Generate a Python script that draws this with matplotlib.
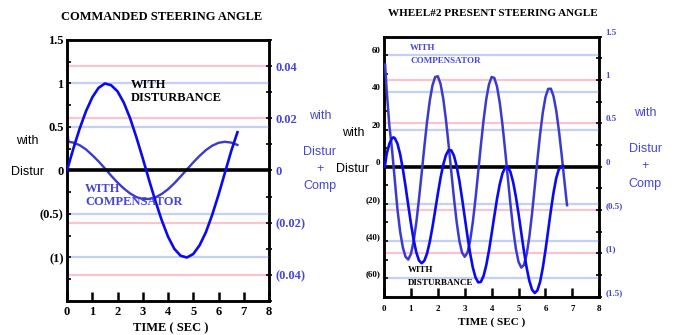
import matplotlib.pyplot as plt
from matplotlib.ticker import MultipleLocator

# ---- left chart: commanded steering angle ----
cmd_t = [0.0, 0.25, 0.5, 0.75, 1.0, 1.25, 1.5, 1.75, 2.0, 2.25, 2.5, 2.75, 3.0, 3.25,
         3.5, 3.75, 4.0, 4.25, 4.5, 4.75, 5.0, 5.25, 5.5, 5.75, 6.0, 6.25, 6.5, 6.75]
cmd_dist = [0.0, 0.25, 0.48, 0.68, 0.84, 0.95, 1.0, 0.98, 0.91, 0.78, 0.6, 0.38, 0.14, -0.11,
            -0.35, -0.57, -0.76, -0.9, -0.98, -1.0, -0.96, -0.86, -0.71, -0.51, -0.28, -0.03, 0.22, 0.44]
cmd_comp_t = [0.0, 0.02, 0.06, 0.25, 0.5, 0.75, 1.0, 1.25, 1.5, 1.75, 2.0, 2.25, 2.5, 2.75, 3.0,
              3.25, 3.5, 3.75, 4.0, 4.25, 4.5, 4.75, 5.0, 5.25, 5.5, 5.75, 6.0, 6.25, 6.5, 6.75]
cmd_comp = [0.0, 0.0143, 0.0110, 0.0107, 0.0097, 0.0081, 0.0059, 0.0035, 0.0008, -0.0020,
            -0.0046, -0.0069, -0.0088, -0.0102, -0.0109, -0.0109, -0.0103, -0.0090, -0.0072,
            -0.0049, -0.0023, 0.0004, 0.0031, 0.0056, 0.0078, 0.0095, 0.0106, 0.0110, 0.0107, 0.0098]

# ---- right chart: wheel#2 present steering angle ----
whl_comp_t = [0.04, 0.1, 0.2, 0.3, 0.4, 0.5, 0.6, 0.7, 0.8, 0.9, 1.0, 1.1, 1.2, 1.3, 1.4, 1.5,
              1.6, 1.7, 1.8, 1.9, 2.0, 2.1, 2.2, 2.3, 2.4, 2.5, 2.6, 2.7, 2.8, 2.9, 3.0, 3.1,
              3.2, 3.3, 3.4, 3.5, 3.6, 3.7, 3.8, 3.9, 4.0, 4.1, 4.2, 4.3, 4.4, 4.5, 4.6, 4.7,
              4.8, 4.9, 5.0, 5.1, 5.2, 5.3, 5.4, 5.5, 5.6, 5.7, 5.8, 5.9, 6.0, 6.1, 6.2, 6.3,
              6.4, 6.5, 6.6, 6.7, 6.8]
whl_comp = [55, 41, 22, 9, -7, -23, -35, -43.5, -48.5, -50, -47, -40.2, -30.1, -17.4, -3.4, 10.9,
            24.3, 35.5, 43.7, 48.3, 48.7, 44.7, 36.8, 25.5, 11.9, -2.7, -17, -29.8, -39.9, -46.3,
            -48.5, -46.3, -39.9, -29.9, -17.2, -2.9, 11.6, 25.1, 36.4, 44.3, 48.3, 47.8, 43.1,
            34.6, 22.9, 9, -5.9, -20.5, -33.6, -44.2, -51.3, -54.3, -52.9, -47.3, -37.8, -25.4,
            -11.1, 3.6, 17.4, 29.1, 37.5, 41.9, 42, 37.9, 30.2, 19.4, 6.6, -7.2, -20.7]
whl_dist_t = [0.03, 0.1, 0.2, 0.3, 0.35, 0.4, 0.5, 0.6, 0.7, 0.8, 0.9, 1.0, 1.1, 1.2, 1.3, 1.4,
              1.5, 1.6, 1.7, 1.8, 1.9, 2.0, 2.1, 2.2, 2.3, 2.4, 2.5, 2.6, 2.7, 2.8, 2.9, 3.0,
              3.1, 3.2, 3.3, 3.4, 3.5, 3.6, 3.7, 3.8, 3.9, 4.0, 4.1, 4.2, 4.3, 4.4, 4.5, 4.6,
              4.7, 4.8, 4.9, 5.0, 5.1, 5.2, 5.3, 5.4, 5.5, 5.6, 5.7, 5.8, 5.9, 6.0, 6.1, 6.2,
              6.3, 6.4, 6.5, 6.65]
whl_dist = [0, 6.9, 12.4, 15.4, 15.8, 15.4, 12.4, 6.7, -1.2, -10.5, -20.6, -30.5, -39.2, -46.1,
            -50.5, -52, -50.6, -46.7, -40.5, -32.6, -23.7, -14.6, -6.1, 1, 6.2, 8.9, 8.8, 5.9,
            0.3, -7.5, -17, -27.2, -37.3, -46.6, -54.3, -59.6, -62.3, -62, -58.8, -53, -45.2,
            -36, -26.5, -17.3, -9.5, -3.7, -0.5, -0.2, -2.9, -8.4, -16.1, -25.4, -35.5, -45.5,
            -54.4, -61.4, -66.2, -68, -66.6, -62, -54.5, -45, -34.3, -23.6, -13.9, -6.1, -1.2, 0.5]

cmd_left_ticks = [-1, -0.5, 0, 0.5, 1, 1.5]
cmd_left_labels = ['(1)', '(0.5)', '0', '0.5', '1', '1.5']
cmd_right_ticks = [-0.04, -0.02, 0, 0.02, 0.04]
cmd_right_labels = ['(0.04)', '(0.02)', '0', '0.02', '0.04']
whl_left_ticks = [-60, -40, -20, 0, 20, 40, 60]
whl_left_labels = ['(60)', '(40)', '(20)', '0', '20', '40', '60']
whl_right_ticks = [-1.5, -1, -0.5, 0, 0.5, 1, 1.5]
whl_right_labels = ['(1.5)', '(1)', '(0.5)', '0', '0.5', '1', '1.5']
time_ticks = [0, 1, 2, 3, 4, 5, 6, 7, 8]

DIST = '#0a0af0'
COMP = '#3a3ad0'
LABEL_BLUE = '#4646d6'
PINK = '#f8c4cf'
LBLUE = '#c4d0f8'
SERIF = 'Liberation Serif'
SANS = 'Liberation Sans'

W, H = 679, 335
fig = plt.figure(figsize=(W / 100, H / 100), dpi=100)


def style_axes(ax, ax2, ylim, yticks, ylabels, y2lim, y2ticks, y2labels, ymin, y2min,
               fs, xpad, ypad):
    ax.set_xlim(0, 8)
    ax.set_ylim(*ylim)
    ax2.set_ylim(*y2lim)
    ax.set_xticks(time_ticks)
    ax.set_xticklabels([str(t) for t in time_ticks])
    ax.set_yticks(yticks)
    ax.set_yticklabels(ylabels)
    ax.yaxis.set_minor_locator(MultipleLocator(ymin))
    ax2.set_yticks(y2ticks)
    ax2.set_yticklabels(y2labels)
    ax2.yaxis.set_minor_locator(MultipleLocator(y2min))
    ax.tick_params(axis='x', direction='in', length=6.5, width=1.8, pad=xpad,
                   labelsize=fs, top=False)
    ax.tick_params(axis='y', which='both', direction='in', length=3, width=1.2,
                   pad=ypad, labelsize=fs)
    ax2.tick_params(axis='y', which='both', direction='inout', length=5, width=1.2,
                    pad=2, labelsize=fs, labelcolor=LABEL_BLUE)
    for lab in ax.get_xticklabels() + ax.get_yticklabels() + ax2.get_yticklabels():
        lab.set_fontfamily(SERIF)
        lab.set_fontweight('bold')
    for a in (ax, ax2):
        for sp in a.spines.values():
            sp.set_linewidth(1.8)
    ax.yaxis.grid(True, color=LBLUE, lw=1.6)
    ax2.yaxis.grid(True, color=PINK, lw=1.6)
    ax.set_axisbelow(True)
    ax.axhline(0, color='black', lw=2.6, zorder=2)
    ax.set_zorder(ax2.get_zorder() + 1)
    ax.patch.set_visible(False)


# left panel
axL = fig.add_axes([67 / W, 1 - 301 / H, 202 / W, 261 / H])
axL2 = axL.twinx()
axL.plot(cmd_t, cmd_dist, color=DIST, lw=1.9, zorder=3)
axL2.plot(cmd_comp_t, cmd_comp, color=COMP, lw=1.7)
style_axes(axL, axL2, (-1.5, 1.5), cmd_left_ticks, cmd_left_labels,
           (-0.05, 0.05), cmd_right_ticks, cmd_right_labels, 0.25, 0.01, 9, 3.5, 2.5)
axL.text(2.52, 1.05, 'WITH\nDISTURBANCE', family=SERIF, weight='bold', fontsize=9,
         va='top', ha='left', linespacing=1.05, zorder=4)
axL.text(0.71, -0.14, 'WITH\nCOMPENSATOR', family=SERIF, weight='bold', fontsize=9,
         color=LABEL_BLUE, va='top', ha='left', linespacing=1.2, zorder=4)

# right panel
axR = fig.add_axes([384 / W, 1 - 296.7 / H, 215.3 / W, 260 / H])
axR2 = axR.twinx()
axR.plot(whl_comp_t, whl_comp, color=COMP, lw=1.8, zorder=3)
axR.plot(whl_dist_t, whl_dist, color=DIST, lw=1.9, zorder=3)
style_axes(axR, axR2, (-70, 70), whl_left_ticks, whl_left_labels,
           (-1.5, 1.5), whl_right_ticks, whl_right_labels, 10, 0.25, 6.5, 6, 2.5)
for lab in axR.get_yticklabels() + axR2.get_yticklabels():
    lab.set_verticalalignment('bottom')
axR.text(0.97, 66, 'WITH\nCOMPENSATOR', family=SERIF, weight='bold', fontsize=6.5,
         color=LABEL_BLUE, va='top', ha='left', linespacing=1.75, zorder=4)
axR.text(0.9, -53.5, 'WITH\nDISTURBANCE', family=SERIF, weight='bold', fontsize=6.5,
         va='top', ha='left', linespacing=1.75, zorder=4)


def ftext(x, y, s, **kw):
    fig.text(x / W, 1 - y / H, s, ha='center', va='center', **kw)


ftext(162, 17, 'COMMANDED STEERING ANGLE', family=SERIF, weight='bold', fontsize=9)
ftext(493, 14, 'WHEEL#2 PRESENT STEERING ANGLE', family=SERIF, weight='bold', fontsize=8)
ftext(171, 328, 'TIME ( SEC )', family=SERIF, weight='bold', fontsize=9)
ftext(492, 322, 'TIME ( SEC )', family=SERIF, weight='bold', fontsize=8)

# axis legends beside the panels
ftext(27, 141, 'with', family=SANS, fontsize=9)
ftext(27, 172, 'Distur', family=SANS, fontsize=9)
ftext(320, 116, 'with', family=SANS, fontsize=9, color=LABEL_BLUE)
ftext(320, 152, 'Distur', family=SANS, fontsize=9, color=LABEL_BLUE)
ftext(320, 169, '+', family=SANS, fontsize=9, color=LABEL_BLUE)
ftext(320, 186, 'Comp', family=SANS, fontsize=9, color=LABEL_BLUE)
ftext(353, 133, 'with', family=SANS, fontsize=9)
ftext(352, 169, 'Distur', family=SANS, fontsize=9)
ftext(645, 113, 'with', family=SANS, fontsize=9, color=LABEL_BLUE)
ftext(645, 149, 'Distur', family=SANS, fontsize=9, color=LABEL_BLUE)
ftext(645, 166, '+', family=SANS, fontsize=9, color=LABEL_BLUE)
ftext(645, 184, 'Comp', family=SANS, fontsize=9, color=LABEL_BLUE)

fig.savefig('out.png', dpi=100)
